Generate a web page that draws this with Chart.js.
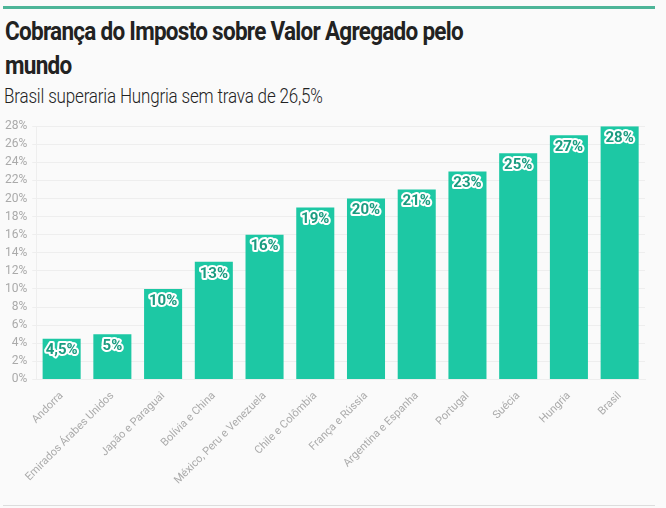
<!DOCTYPE html>
<html>
<head>
<meta charset="utf-8">
<script src="https://cdn.jsdelivr.net/npm/chart.js@4"></script>
<style>
  html, body { margin: 0; padding: 0; background: #fafafa; }
  body { width: 666px; height: 508px; position: relative; overflow: hidden; font-family: Roboto, "Open Sans", sans-serif; }
  .topline { position: absolute; left: 3px; top: 6px; width: 652px; height: 3px; background: #4db598; }
  h1 { position: absolute; left: 5px; top: 15px; margin: 0; font-size: 25px; line-height: 34px; font-weight: 700; color: #222;
       letter-spacing: -0.8px; width: 560px; transform: scaleX(0.9); transform-origin: left top; }
  h2 { position: absolute; left: 4px; top: 82px; margin: 0; font-size: 20px; line-height: 28px; font-weight: 300; color: #222;
       letter-spacing: -0.2px; transform: scaleX(0.85); transform-origin: left top; white-space: nowrap; }
  .chart { position: absolute; left: 0; top: 114px; width: 666px; height: 375px; }
  .bottomline { position: absolute; left: 3px; top: 505px; width: 652px; height: 1px; background: #ddd; }
</style>
</head>
<body>
<div class="topline"></div>
<h1>Cobrança do Imposto sobre Valor Agregado pelo mundo</h1>
<h2>Brasil superaria Hungria sem trava de 26,5%</h2>
<div class="chart"><canvas id="c"></canvas></div>
<div class="bottomline"></div>
<script>
const countries = ['Andorra', 'Emirados Árabes Unidos', 'Japão e Paraguai', 'Bolívia e China',
  'México, Peru e Venezuela', 'Chile e Colômbia', 'França e Rússia', 'Argentina e Espanha',
  'Portugal', 'Suécia', 'Hungria', 'Brasil'];
const vat = [4.5, 5, 10, 13, 16, 19, 20, 21, 23, 25, 27, 28];
const labels = ['4,5%', '5%', '10%', '13%', '16%', '19%', '20%', '21%', '23%', '25%', '27%', '28%'];

const barLabels = {
  id: 'barLabels',
  afterDatasetsDraw(chart) {
    const ctx = chart.ctx;
    const meta = chart.getDatasetMeta(0);
    ctx.save();
    ctx.font = 'bold 15px Roboto, sans-serif';
    ctx.textAlign = 'center';
    ctx.textBaseline = 'middle';
    ctx.lineJoin = 'round';
    meta.data.forEach((bar, i) => {
      const y = bar.y + 12;
      ctx.lineWidth = 4;
      ctx.strokeStyle = '#ffffff';
      ctx.strokeText(labels[i], bar.x, y);
      ctx.fillStyle = '#1a9c80';
      ctx.fillText(labels[i], bar.x, y);
    });
    ctx.restore();
  }
};

new Chart(document.getElementById('c'), {
  type: 'bar',
  data: {
    labels: countries,
    datasets: [{
      data: vat,
      backgroundColor: '#1dc8a4',
      categoryPercentage: 0.75,
      barPercentage: 1
    }]
  },
  options: {
    responsive: true,
    maintainAspectRatio: false,
    animation: false,
    layout: { padding: { left: 0, right: 21, top: 4, bottom: 0 } },
    plugins: { legend: { display: false }, tooltip: { enabled: false } },
    scales: {
      x: {
        grid: { display: false },
        border: { color: '#eeeeee' },
        ticks: { color: '#aaaaaa', font: { size: 11, family: 'Roboto' }, maxRotation: 45, minRotation: 45, padding: 2 }
      },
      y: {
        min: 0, max: 28,
        grid: { color: '#eeeeee', tickLength: 4 },
        border: { color: '#eeeeee' },
        ticks: { stepSize: 2, color: '#aaaaaa', font: { size: 12, family: 'Roboto' }, padding: 5, callback: v => v + '%' }
      }
    }
  },
  plugins: [barLabels]
});
</script>
</body>
</html>
